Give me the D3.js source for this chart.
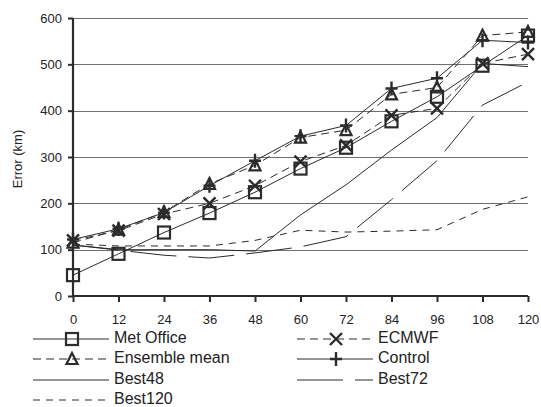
<!DOCTYPE html>
<html>
<head>
<meta charset="utf-8">
<script src="https://cdn.jsdelivr.net/npm/d3@7"></script>
<style>
  html, body { margin: 0; padding: 0; background: #fff; }
  svg { display: block; font-family: "Liberation Sans", Arial, sans-serif; }
</style>
</head>
<body>
<svg id="chart" width="541" height="407"></svg>
<script>
const hours = [0, 12, 24, 36, 48, 60, 72, 84, 96, 108, 120];
const yTicks = [0, 100, 200, 300, 400, 500, 600];
const metOffice = [45, 91, 137, 179, 224, 275, 320, 377, 430, 497, 562];
const ecmwf = [120, 141, 177, 200, 238, 290, 325, 390, 405, 502, 522];
const ensembleMean = [115, 143, 181, 242, 282, 342, 358, 435, 450, 562, 570];
const control = [122, 145, 180, 238, 292, 345, 368, 448, 470, 552, 547];
const best48 = [110, 100, 100, 100, 97, 175, 240, 315, 385, 502, 495];
const best72 = [110, 99, 88, 82, 93, 106, 128, 208, 292, 412, 462];
const best120 = [112, 108, 108, 108, 120, 142, 138, 140, 143, 187, 214];

const seriesNames = ["Met Office", "ECMWF", "Ensemble mean", "Control", "Best48", "Best72", "Best120"];
const seriesValues = [metOffice, ecmwf, ensembleMean, control, best48, best72, best120];
const seriesDash = [null, "8,5", "8,5", null, null, "46,12", "7,6"];
const seriesMarker = ["square", "cross", "triangle", "plus", null, null, null];

const svg = d3.select("#chart");
const x = d3.scaleLinear().domain([0, 120]).range([73, 528]);
const y = d3.scaleLinear().domain([0, 600]).range([296, 18]);
const ink = "#2b2b2b";

// gridlines
svg.append("g").selectAll("line").data(yTicks.filter(d => d > 0)).join("line")
  .attr("x1", x(0)).attr("x2", x(120))
  .attr("y1", d => Math.round(y(d)) + 0.5).attr("y2", d => Math.round(y(d)) + 0.5)
  .attr("stroke", "#6e6e6e").attr("stroke-width", 1);

// axes
const yAxis = svg.append("g").attr("transform", `translate(${x(0)},0)`)
  .call(d3.axisLeft(y).tickValues(yTicks).tickSize(5).tickPadding(6));
const xAxis = svg.append("g").attr("transform", `translate(0,${y(0)})`)
  .call(d3.axisBottom(x).tickValues(hours).tickSize(6).tickPadding(13));
[yAxis, xAxis].forEach(a => {
  a.select(".domain").attr("stroke", ink).attr("stroke-width", 2.2);
  a.selectAll(".tick line").attr("stroke", ink).attr("stroke-width", 2);
  a.selectAll(".tick text").attr("fill", "#222").style("font-size", "13px")
    .style("font-family", '"Liberation Sans", Arial, sans-serif');
});
xAxis.select(".domain").attr("d", `M${x(0)},0H${x(120)}`);
yAxis.select(".domain").attr("d", `M0,${y(0)}V${y(600)}`);

svg.append("text")
  .attr("transform", `translate(19,${(y(0) + y(600)) / 2 + 2}) rotate(-90)`)
  .attr("text-anchor", "middle").attr("dominant-baseline", "middle")
  .attr("fill", "#222").style("font-size", "13px").text("Error (km)");

function drawMarker(g, type, cx, cy) {
  const s = ink;
  if (type === "square") {
    g.append("rect").attr("x", cx - 6).attr("y", cy - 6).attr("width", 12).attr("height", 12)
      .attr("fill", "none").attr("stroke", s).attr("stroke-width", 2.2);
  } else if (type === "triangle") {
    g.append("path").attr("d", `M${cx},${cy - 6}L${cx + 5.5},${cy + 5}L${cx - 5.5},${cy + 5}Z`)
      .attr("fill", "none").attr("stroke", s).attr("stroke-width", 2.2);
  } else if (type === "cross") {
    g.append("path").attr("d", `M${cx - 6},${cy - 6}L${cx + 6},${cy + 6}M${cx + 6},${cy - 6}L${cx - 6},${cy + 6}`)
      .attr("stroke", s).attr("stroke-width", 2.4);
  } else if (type === "plus") {
    g.append("path").attr("d", `M${cx - 6},${cy}L${cx + 6},${cy}M${cx},${cy - 7}L${cx},${cy + 7}`)
      .attr("stroke", s).attr("stroke-width", 2.4);
  }
}

const line = d3.line().x((d, i) => x(hours[i])).y(d => y(d));
const linesG = svg.append("g");
seriesValues.forEach((vals, k) => {
  linesG.append("path").datum(vals).attr("d", line)
    .attr("fill", "none").attr("stroke", ink).attr("stroke-width", 1)
    .attr("stroke-dasharray", seriesDash[k]);
});
const markG = svg.append("g");
seriesValues.forEach((vals, k) => {
  if (!seriesMarker[k]) return;
  vals.forEach((v, i) => drawMarker(markG, seriesMarker[k], x(hours[i]), y(v)));
});

// legend
const legendPos = [
  [33, 339], [297, 339],
  [33, 359], [297, 359],
  [33, 380], [297, 380],
  [33, 400]
];
const legG = svg.append("g");
seriesNames.forEach((name, k) => {
  const [lx, ly] = legendPos[k];
  legG.append("line").attr("x1", lx).attr("x2", lx + 76).attr("y1", ly).attr("y2", ly)
    .attr("stroke", ink).attr("stroke-width", 1).attr("stroke-dasharray", seriesDash[k]);
  if (seriesMarker[k]) drawMarker(legG, seriesMarker[k], lx + 39, ly);
  legG.append("text").attr("x", lx + 81).attr("y", ly).attr("dominant-baseline", "middle")
    .attr("fill", "#222").style("font-size", "16px").text(name);
});
</script>
</body>
</html>
